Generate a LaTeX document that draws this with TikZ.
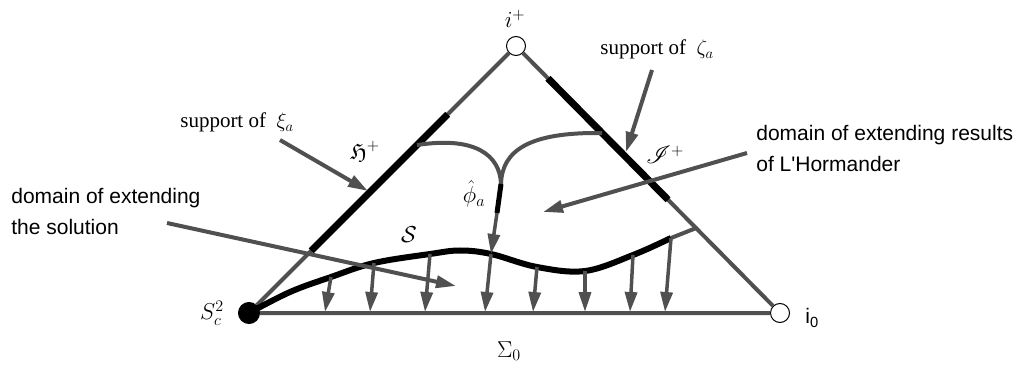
\documentclass[tikz,border=0pt]{standalone}
\usepackage{fix-cm}
\usepackage{amsmath,amssymb,mathrsfs}
\usepackage{fontspec}
\setmainfont{Liberation Serif}
\setsansfont{Liberation Sans}
\usetikzlibrary{arrows.meta,calc}
\definecolor{dgray}{RGB}{80,80,80}

\begin{document}
\begin{tikzpicture}[x=1pt,y=-1pt,line width=4pt,dgray,
    every node/.style={text=black,font=\fontsize{21}{31}\selectfont},
    lab/.style={font=\fontsize{23}{30}\selectfont},
    txt/.style={anchor=west,align=left,font=\fontsize{21}{31}\selectfont\sffamily},
    hole/.style={circle,draw=black,line width=1pt,fill=white,minimum size=19pt,inner sep=0pt},
    spot/.style={hole,fill=black,minimum size=21pt},
    arr/.style={-{Triangle[length=20pt,width=12pt]}},
    thk/.style={black,line width=7pt}]
    \useasboundingbox (0,0) rectangle (1020,366);
    \node[hole] (ip) at (516,46) {};
    \node[hole] (i0) at (780,313) {};
    \node[spot] (Sc) at (249,313) {};
    \draw (Sc)--(ip)--(i0)--(Sc);
    \draw[thk] ($(Sc)!.233!(ip)$)--($(Sc)!.744!(ip)$) ($(ip)!.121!(i0)$)--($(ip)!.576!(i0)$);
    % the two arches and the cusp
    \coordinate (cusp) at (501,184);
    \coordinate (ph) at (497,213);
    \draw ($(Sc)!.629!(ip)$) .. controls (475,136) and (500,155) .. (cusp)
        .. controls (502,150) and (530,132) .. ($(ip)!.326!(i0)$);
    \draw[black,line width=5pt] (cusp)--(ph);
    % points of S and their feet on Sigma_0
    \foreach \x/\y/\b [count=\i] in {331/277/325,374/263/370,430/254/425,491/254/485,
        537/267/533,585/271/585,633/255/630,671/238/665}
    {\coordinate (s\i) at (\x,\y); \coordinate (b\i) at (\b,312);}
    \draw (s8)--($(ip)!.682!(i0)$);
    \draw[black,line width=6pt] plot[smooth,tension=.6] coordinates
        {(Sc) (290,292) (s1) (s2) (s3) (460,250.5) (s4) (s5) (s6) (s7) (s8)};
    \foreach \i in {1,...,8} \draw[arr,line width=3.5pt] (s\i)--(b\i);
    \draw[arr,line width=3.5pt] (ph)--(s4);
    % pointers
    \foreach \i/\a/\b/\c/\d in {1/280/140/368/191, 2/652/70/626/152, 3/747/153/543/212, 4/167/223/456/286}
    {\coordinate (p\i) at (\a,\b); \coordinate (q\i) at (\c,\d);}
    \foreach \i in {1,...,4} \draw[arr] (p\i)--(q\i);
    \node[anchor=base west] (xil) at (175,128) {support of\enspace$\xi_a$};
    \node[anchor=base west] (zetal) at (595,55) {support of\enspace$\zeta_a$};
    \node[txt] (horl) at (751,148) {domain of extending results\\of L\textquotesingle Hormander};
    \node[txt] (soll) at (6,211) {domain of extending\\the solution};
    \node[lab] (ipl) at (515,19) {$i^+$};
    \node[lab] (Hl) at (365,151) {$\mathfrak{H}^+$};
    \node[lab] (phl) at (474,194) {$\hat{\phi}_a$};
    \node[lab] (Sl) at (409,235) {$\mathcal{S}$};
    \node[lab] (Il) at (665,155) {$\mathscr{I}^+$};
    \node[lab] (Scl) at (212,313) {$S_c^2$};
    \node[lab] (Sigl) at (509,351) {$\Sigma_0$};
    \node[font=\fontsize{21}{31}\selectfont\sffamily] (i0l) at (812,318) {i$_{\textsf{0}}$};
\end{tikzpicture}
\end{document}
